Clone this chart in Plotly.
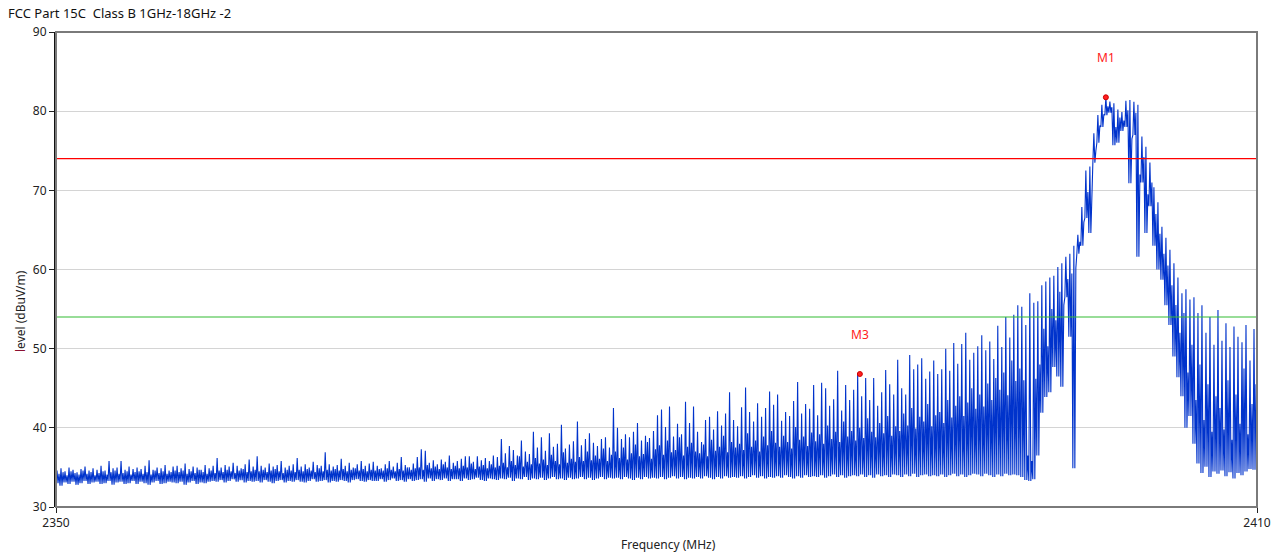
import plotly.graph_objects as go

# ---------------- data ----------------
TITLE = "FCC Part 15C\u00a0\u00a0Class B 1GHz-18GHz -2"
X_TITLE = "Frequency (MHz)"
Y_TITLE = "<span style='color:#8b1030'>l</span>evel (dBuV/m)"
F_START = 2350.0          # MHz, first bin
F_STEP = 0.2              # MHz, bin width
X_TICKS = [2350, 2410]
Y_TICKS = [30, 40, 50, 60, 70, 80, 90]

# per-bin highest spike (dBuV/m)
bin_max = [
    34.6,34.9,34.5,35.0,34.7,34.4,34.8,35.1,34.6,34.9,
    34.7,35.2,34.6,35.8,34.9,35.0,35.8,34.7,35.1,34.8,
    35.0,34.8,35.2,35.9,34.7,35.0,34.9,35.3,34.6,35.1,
    35.2,34.9,35.5,34.8,35.1,35.0,34.7,35.3,34.9,35.2,
    36.2,35.0,35.3,35.1,35.6,35.2,34.9,35.4,36.0,35.1,
    36.4,35.2,35.0,35.5,35.1,35.3,35.8,35.0,35.2,35.4,
    36.2,35.1,35.4,35.0,35.7,35.3,35.2,36.9,35.4,35.1,
    35.3,36.1,35.2,35.6,35.0,35.4,35.8,35.2,35.5,35.7,
    35.2,34.9,35.4,35.8,35.1,35.6,36.3,35.3,35.0,35.5,
    36.3,37.3,37.1,35.6,35.9,35.4,36.0,35.7,36.5,35.6,
    35.8,36.1,36.4,36.4,35.7,36.4,35.9,36.2,35.8,36.5,
    36.3,38.6,36.8,37.7,37.2,36.5,38.4,37.0,36.7,39.5,
    37.5,38.8,37.1,39.3,37.6,38.0,40.4,37.4,37.9,38.3,
    40.8,37.8,38.6,39.3,38.1,37.7,38.6,38.8,37.5,42.5,
    40.0,38.6,39.2,38.8,39.5,40.6,38.4,39.0,38.7,39.6,
    41.6,42.3,40.1,42.7,38.9,40.5,39.2,43.3,40.6,42.7,
    39.5,38.2,41.0,41.4,39.8,42.1,40.3,41.8,44.5,41.0,
    40.2,42.6,45.1,42.0,40.8,43.1,41.4,42.5,44.6,42.9,
    44.2,40.9,42.0,41.5,43.4,45.8,41.8,43.0,42.4,45.4,
    41.6,45.7,45.0,42.8,43.6,47.2,42.2,45.4,43.5,44.8,
    46.9,44.0,46.3,43.5,46.3,42.8,44.5,47.3,45.5,44.2,
    48.6,45.0,44.2,49.2,47.4,48.0,48.8,46.2,47.1,48.5,
    46.8,47.4,50.0,47.2,50.7,48.1,50.6,52.0,48.6,49.5,
    50.3,51.7,49.8,50.9,48.7,52.9,50.2,54.0,51.4,54.3,
    55.5,55.3,53.0,57.0,55.8,56.0,58.0,58.5,59.0,59.2,
    60.3,60.8,61.6,62.0,63.0,64.4,67.9,72.5,73.0,77.2,
    79.5,80.8,81.75,81.2,81.0,80.2,79.9,81.3,81.4,81.2,
    80.8,76.8,75.5,73.5,70.4,68.5,65.4,64.0,62.5,60.8,
    59.0,57.0,57.5,56.2,56.5,54.5,55.5,52.0,54.0,50.5,
    54.9,51.0,53.2,50.2,52.8,51.5,50.8,53.0,48.5,52.5,
]

# per-bin secondary spike (dBuV/m)
bin_mid = [
    34.2,34.4,34.0,34.5,34.3,34.1,34.6,34.2,34.4,34.0,
    34.3,34.5,34.1,34.4,34.6,34.2,34.3,34.5,34.1,34.4,
    34.5,34.2,34.4,34.1,34.6,34.3,34.5,34.2,34.4,34.6,
    34.4,34.6,34.2,34.5,34.3,34.7,34.4,34.2,34.6,34.3,
    34.6,34.4,34.7,34.5,34.3,34.6,34.8,34.4,34.5,34.7,
    34.5,34.7,34.4,34.6,34.8,34.5,34.3,34.7,34.6,34.4,
    34.7,34.5,34.8,34.6,34.4,34.9,34.5,34.7,34.6,34.8,
    34.6,34.8,34.5,34.7,34.9,34.6,34.8,34.5,34.7,34.6,
    34.8,34.6,34.9,34.7,34.5,34.8,34.6,35.0,34.7,34.9,
    35.0,34.7,35.3,34.9,35.1,34.8,35.4,35.0,34.8,35.2,
    34.9,35.2,35.0,35.5,34.8,35.1,35.3,34.9,35.4,35.0,
    35.2,35.6,35.0,35.8,35.3,36.4,35.1,35.7,35.4,36.2,
    35.5,36.0,35.3,36.6,35.8,35.4,36.9,35.6,36.1,35.7,
    36.3,35.8,37.0,35.9,36.5,36.1,37.4,35.8,36.6,37.0,
    36.2,37.5,36.0,36.8,37.9,36.4,36.7,38.2,36.1,37.3,
    37.8,36.6,38.4,36.9,37.2,38.8,36.5,37.6,38.1,37.0,
    36.8,37.9,36.4,38.5,37.1,37.6,39.0,36.9,38.2,37.5,
    38.0,37.2,39.3,37.6,38.4,37.0,38.9,37.8,39.6,38.1,
    37.6,39.0,38.2,37.4,40.1,38.5,38.9,37.7,39.4,38.3,
    39.2,38.0,40.3,38.6,39.5,38.2,40.8,38.9,39.6,38.4,
    40.0,38.7,41.2,39.5,38.8,40.6,39.3,41.5,39.0,40.2,
    39.6,41.8,40.3,42.5,39.9,41.4,40.8,43.0,40.2,41.6,
    42.0,40.6,43.5,41.3,42.8,44.0,41.5,43.2,45.0,42.4,
    44.2,42.7,45.6,43.5,46.3,44.8,47.0,44.1,48.5,45.9,
    47.5,46.0,36.5,35.8,46.2,48.0,52.5,50.3,55.0,53.6,
    57.2,55.5,58.8,59.5,60.2,63.5,66.0,69.8,70.5,75.0,
    78.2,79.6,80.6,80.5,78.0,79.2,78.8,80.1,76.5,79.8,
    72.0,74.2,69.5,71.0,67.0,64.5,62.0,60.5,58.0,55.5,
    52.0,54.5,47.0,50.5,43.5,48.0,41.0,45.5,39.5,44.0,
    42.5,39.8,46.0,38.5,44.2,40.5,47.5,39.2,43.0,45.5,
]

# per-bin minimum (noise floor / dips) (dBuV/m)
bin_min = [
    33.0,32.7,33.1,32.9,33.2,32.8,33.0,33.3,32.9,33.1,
    33.2,32.9,33.0,33.3,32.8,33.1,33.2,32.9,33.0,33.3,
    32.9,33.2,33.0,32.8,33.1,33.3,32.9,33.0,33.2,33.1,
    33.0,33.2,32.8,33.1,33.3,32.9,33.1,33.0,33.2,33.3,
    33.2,33.4,33.1,33.3,33.5,33.2,33.4,33.1,33.3,33.2,
    33.3,33.1,33.4,33.2,33.0,33.3,33.4,33.1,33.3,33.2,
    33.4,33.2,33.1,33.3,33.5,33.2,33.3,33.4,33.1,33.3,
    33.2,33.4,33.3,33.1,33.4,33.5,33.3,33.2,33.4,33.3,
    33.3,33.5,33.2,33.4,33.6,33.3,33.4,33.2,33.5,33.3,
    33.4,33.5,33.2,33.6,33.3,33.5,33.4,33.6,33.3,33.5,
    33.5,33.3,33.6,33.4,33.5,33.7,33.4,33.3,33.6,33.5,
    33.4,33.6,33.5,33.7,33.3,33.6,33.5,33.8,33.4,33.6,
    33.5,33.7,33.4,33.6,33.8,33.5,33.6,33.4,33.7,33.5,
    33.6,33.8,33.5,33.7,33.4,33.6,33.8,33.5,33.7,33.6,
    33.7,33.5,33.8,33.6,33.4,33.7,33.5,33.8,33.6,33.7,
    33.6,33.8,33.5,33.7,33.9,33.6,33.8,33.5,33.7,33.6,
    33.8,33.6,33.9,33.7,33.5,33.8,33.6,33.9,33.7,33.8,
    33.7,33.9,33.6,33.8,34.0,33.7,33.9,33.6,33.8,33.7,
    33.9,33.7,34.0,33.8,33.6,33.9,33.7,34.0,33.8,33.9,
    33.8,34.0,33.7,33.9,34.1,33.8,34.0,33.7,33.9,34.0,
    33.9,34.1,33.8,34.0,33.7,34.1,33.9,34.0,33.8,34.1,
    34.0,33.8,34.1,33.9,34.2,33.8,34.0,34.1,33.9,34.0,
    33.9,34.1,33.8,34.0,34.2,33.9,34.1,33.8,34.0,34.2,
    34.1,33.9,34.2,34.0,33.8,34.1,33.9,34.2,34.0,34.1,
    34.0,33.8,33.4,33.3,33.5,36.5,41.9,43.9,44.5,47.7,
    46.5,45.2,56.5,51.5,34.9,62.0,63.0,66.5,64.6,73.5,
    76.0,78.0,79.5,79.8,75.7,76.0,77.5,78.0,70.9,77.0,
    61.6,71.0,64.6,68.0,63.0,60.0,58.7,55.5,53.0,49.0,
    46.4,44.0,40.0,41.5,38.0,35.5,34.3,35.1,33.8,34.5,
    34.2,34.6,33.9,34.4,33.6,34.3,34.0,34.5,34.8,34.7,
]

LIMIT_PEAK = 74.0   # red line
LIMIT_AVG = 54.0    # green line

marker_names = ["M1", "M3"]
marker_freq = [2402.45, 2390.16]
marker_level = [81.75, 46.8]

# ---------------- build trace (floor / spike / floor / spike per bin) ----------------
n = min(len(bin_max), len(bin_mid), len(bin_min))
tx, ty = [], []
q = F_STEP / 4
for i in range(n):
    f = F_START + F_STEP * i
    tx += [f, f + q, f + 2 * q, f + 3 * q]
    ty += [bin_min[i], bin_max[i], bin_min[i], bin_mid[i]]

FONT = "Noto Sans, DejaVu Sans, sans-serif"
W, H = 1279, 556

fig = go.Figure()
fig.add_trace(go.Scatter(x=tx, y=ty, mode="lines",
                         line=dict(color="#0033cc", width=1.1),
                         hoverinfo="skip", showlegend=False))
fig.add_trace(go.Scatter(x=[X_TICKS[0], X_TICKS[-1]], y=[LIMIT_PEAK, LIMIT_PEAK],
                         mode="lines", line=dict(color="#ff0000", width=1.2),
                         hoverinfo="skip", showlegend=False))
fig.add_trace(go.Scatter(x=[X_TICKS[0], X_TICKS[-1]], y=[LIMIT_AVG, LIMIT_AVG],
                         mode="lines", line=dict(color="#33bb33", width=1.2),
                         hoverinfo="skip", showlegend=False))
fig.add_trace(go.Scatter(x=marker_freq, y=marker_level, mode="markers",
                         marker=dict(color="#ff2020", size=5,
                                     line=dict(color="#cc0000", width=1)),
                         hoverinfo="skip", showlegend=False))
for name, fx, fy in zip(marker_names, marker_freq, marker_level):
    fig.add_annotation(x=fx, y=fy, text=name, showarrow=False, yshift=40,
                       font=dict(family=FONT, size=12, color="#ff2020"))

# axis titles placed as in the reference
fig.add_annotation(text=X_TITLE, xref="paper", yref="paper",
                   x=(668 - 56) / (1257 - 56), y=-(544 - 507) / (507 - 32),
                   xanchor="center", yanchor="middle", showarrow=False,
                   font=dict(family=FONT, size=12, color="#222"))
fig.add_annotation(text=Y_TITLE, xref="paper", yref="paper",
                   x=-(56 - 20) / (1257 - 56), y=(507 - 311) / (507 - 32),
                   xanchor="center", yanchor="middle", textangle=-90,
                   showarrow=False,
                   font=dict(family=FONT, size=12, color="#222"))

# plot frame (gray)
fig.add_shape(type="rect", xref="paper", yref="paper", x0=0, y0=0, x1=1, y1=1,
              line=dict(color="#7a7a7a", width=2), layer="above")

fig.update_layout(
    width=W, height=H,
    margin=dict(l=56, r=22, t=32, b=49, autoexpand=False),
    paper_bgcolor="white", plot_bgcolor="white",
    font=dict(family=FONT, size=12, color="#222222"),
    title=dict(text=TITLE, x=8 / W, xanchor="left", xref="container",
               y=1 - 13 / H, yanchor="middle", yref="container",
               font=dict(family=FONT, size=13, color="#111111")),
    xaxis=dict(range=[X_TICKS[0], X_TICKS[-1]], tickvals=X_TICKS,
               ticks="outside", ticklen=5, tickcolor="#222",
               showgrid=False, zeroline=False, showline=False,
               automargin=False),
    yaxis=dict(range=[Y_TICKS[0], Y_TICKS[-1]], tickvals=Y_TICKS,
               ticks="outside", ticklen=5, tickcolor="#222",
               showgrid=True, gridcolor="#d4d4d4", gridwidth=1,
               zeroline=False, showline=True, linecolor="#111111", linewidth=2,
               automargin=False),
)

fig.write_html("out.html", config={"displayModeBar": False},
               post_script="document.body.style.margin='0';"
                           "document.body.style.overflow='hidden';")
